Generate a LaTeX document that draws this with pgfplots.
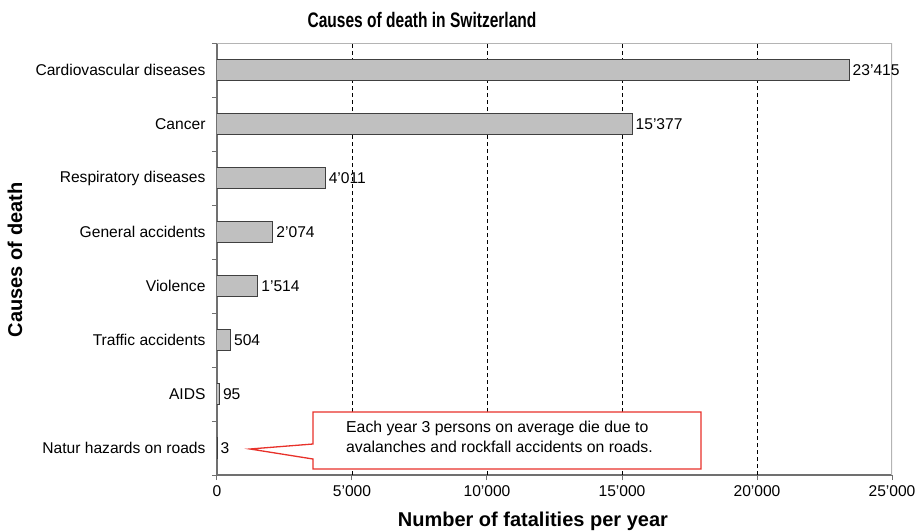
\documentclass[border=0pt]{standalone}
\usepackage{pgfplots}
\pgfplotsset{compat=1.18}
\usepackage{pgfplotstable}
\usepackage{fontspec}
\setmainfont{Liberation Sans}
\newfontfamily\titlefont[FakeStretch=0.74]{Liberation Sans Bold}
\definecolor{barfill}{HTML}{C0C0C0}
\definecolor{baredge}{HTML}{404040}
\definecolor{callred}{HTML}{E8312A}
\definecolor{axgray}{HTML}{707070}
\definecolor{lightax}{HTML}{B4B4B4}

\pgfplotstableread{
y x label
0 3 3
1 95 95
2 504 504
3 1514 1'514
4 2074 2'074
5 4011 4'011
6 15377 15'377
7 23415 23'415
}\data

\begin{document}
\begin{tikzpicture}
\useasboundingbox (-217pt,-56pt) rectangle (704pt,475pt);
\begin{axis}[
  at={(0pt,0pt)}, anchor=south west,
  scale only axis, width=675pt, height=432pt,
  xmin=0, xmax=25000, ymin=-0.5, ymax=7.5,
  xbar, bar width=21pt,
  axis x line*=bottom, axis y line*=left,
  axis line style={draw=axgray, line width=1.2pt},
  tick align=outside,
  major tick length=5pt, minor tick length=5pt,
  tick style={draw=axgray, line width=1pt},
  scaled x ticks=false,
  xtick={0,5000,10000,15000,20000,25000},
  xticklabels={0,5'000,10'000,15'000,20'000,25'000},
  ytick={0,...,7},
  yticklabels={Natur hazards on roads, AIDS, Traffic accidents, Violence, General accidents, Respiratory diseases, Cancer, Cardiovascular diseases},
  minor ytick={-0.5,0.5,1.5,2.5,3.5,4.5,5.5,6.5,7.5},
  every major y tick/.append style={draw=none},
  extra x ticks={5000,10000,15000,20000},
  extra x tick labels={},
  extra x tick style={grid=major, major grid style={black, dash pattern=on 4pt off 3pt, line width=0.8pt}},
  ticklabel style={font=\fontsize{15.6}{18}\selectfont},
  yticklabel style={xshift=-3pt},
  xticklabel style={yshift=-2pt},
  xlabel={Number of fatalities per year},
  ylabel={Causes of death},
  xlabel style={font=\bfseries\fontsize{20}{24}\selectfont, at={(axis description cs:0.468,-0.1065)}, anchor=center},
  ylabel style={font=\bfseries\fontsize{20}{24}\selectfont, at={(axis description cs:-0.2993,0.498)}, anchor=center},
  point meta=explicit symbolic,
  nodes near coords={\pgfplotspointmeta},
  nodes near coords style={font=\fontsize{15.6}{18}\selectfont, anchor=west, inner sep=3pt, text=black},
]
\addplot[fill=barfill, draw=baredge, line width=1pt] table[x=x,y=y,meta=label]{\data};
\draw[lightax, line width=1.2pt] (rel axis cs:0,1) -- (rel axis cs:1,1) -- (rel axis cs:1,0);
\draw[callred, line width=1.3pt, fill=white]
  (axis cs:3556,0.667) -- (axis cs:17926,0.667) -- (axis cs:17926,-0.389)
  -- (axis cs:3556,-0.389) -- (axis cs:3556,-0.204) -- (axis cs:1222,-0.0185)
  -- (axis cs:3556,0.074) -- cycle;
\node[anchor=west, align=left, inner sep=0pt, font=\fontsize{15.8}{20}\selectfont]
  at (axis cs:4778,0.204) {Each year 3 persons on average die due to\\avalanches and rockfall accidents on roads.};
\end{axis}
\node[font=\titlefont\fontsize{21}{24}\selectfont] at (205pt,455pt) {Causes of death in Switzerland};
\end{tikzpicture}
\end{document}
